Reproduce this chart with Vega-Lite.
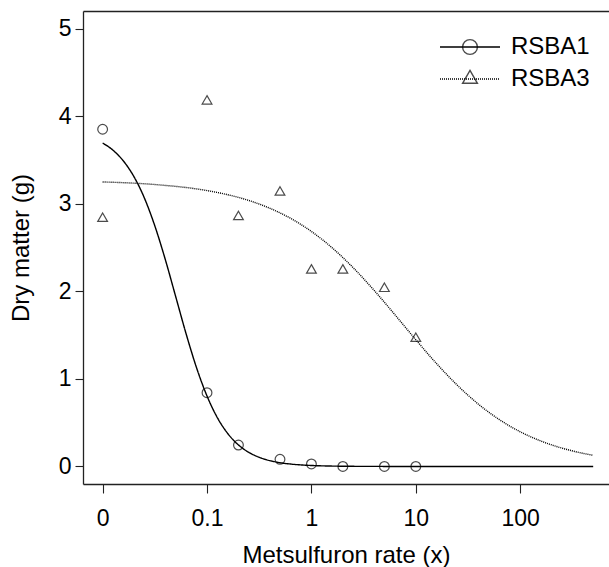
{
  "$schema": "https://vega.github.io/schema/vega-lite/v6.json",
  "width": 526,
  "height": 473,
  "autosize": {"type": "none"},
  "padding": {"left": 83, "top": 11, "right": 0, "bottom": 83},
  "background": "white",
  "config": {
    "view": {"stroke": null},
    "font": "Liberation Sans",
    "axis": {
      "grid": false,
      "domainColor": "#222222",
      "domainWidth": 1.3,
      "tickColor": "#222222",
      "tickWidth": 1.1,
      "labelColor": "black",
      "titleColor": "black",
      "labelFont": "Liberation Sans",
      "titleFont": "Liberation Sans",
      "labelFontSize": 23,
      "titleFontSize": 24,
      "titleFontWeight": "normal"
    }
  },
  "datasets": {
    "obs": [
      {"series": "RSBA1", "dose": 0.01, "dm": 3.85},
      {"series": "RSBA1", "dose": 0.1, "dm": 0.842},
      {"series": "RSBA1", "dose": 0.2, "dm": 0.245},
      {"series": "RSBA1", "dose": 0.5, "dm": 0.082},
      {"series": "RSBA1", "dose": 1, "dm": 0.029},
      {"series": "RSBA1", "dose": 2, "dm": 0.0},
      {"series": "RSBA1", "dose": 5, "dm": 0.0},
      {"series": "RSBA1", "dose": 10, "dm": 0.0},
      {"series": "RSBA3", "dose": 0.01, "dm": 2.83},
      {"series": "RSBA3", "dose": 0.1, "dm": 4.17},
      {"series": "RSBA3", "dose": 0.2, "dm": 2.85},
      {"series": "RSBA3", "dose": 0.5, "dm": 3.13},
      {"series": "RSBA3", "dose": 1, "dm": 2.24},
      {"series": "RSBA3", "dose": 2, "dm": 2.24},
      {"series": "RSBA3", "dose": 5, "dm": 2.03},
      {"series": "RSBA3", "dose": 10, "dm": 1.46}
    ],
    "fit": [
      {"curve": "RSBA1", "dose": 0.01, "dm": 3.693},
      {"curve": "RSBA1", "dose": 0.01259, "dm": 3.610},
      {"curve": "RSBA1", "dose": 0.01585, "dm": 3.486},
      {"curve": "RSBA1", "dose": 0.01995, "dm": 3.309},
      {"curve": "RSBA1", "dose": 0.02512, "dm": 3.065},
      {"curve": "RSBA1", "dose": 0.03162, "dm": 2.747},
      {"curve": "RSBA1", "dose": 0.03981, "dm": 2.364},
      {"curve": "RSBA1", "dose": 0.05012, "dm": 1.939},
      {"curve": "RSBA1", "dose": 0.0631, "dm": 1.513},
      {"curve": "RSBA1", "dose": 0.07943, "dm": 1.126},
      {"curve": "RSBA1", "dose": 0.1, "dm": 0.804},
      {"curve": "RSBA1", "dose": 0.1259, "dm": 0.555},
      {"curve": "RSBA1", "dose": 0.1585, "dm": 0.374},
      {"curve": "RSBA1", "dose": 0.1995, "dm": 0.247},
      {"curve": "RSBA1", "dose": 0.2512, "dm": 0.1615},
      {"curve": "RSBA1", "dose": 0.3162, "dm": 0.1047},
      {"curve": "RSBA1", "dose": 0.3981, "dm": 0.0675},
      {"curve": "RSBA1", "dose": 0.5012, "dm": 0.0433},
      {"curve": "RSBA1", "dose": 0.631, "dm": 0.0278},
      {"curve": "RSBA1", "dose": 0.7943, "dm": 0.0178},
      {"curve": "RSBA1", "dose": 1, "dm": 0.0114},
      {"curve": "RSBA1", "dose": 1.585, "dm": 0.0046},
      {"curve": "RSBA1", "dose": 2.512, "dm": 0.0019},
      {"curve": "RSBA1", "dose": 5.012, "dm": 0.0006},
      {"curve": "RSBA1", "dose": 10, "dm": 0.0002},
      {"curve": "RSBA1", "dose": 31.62, "dm": 0.0},
      {"curve": "RSBA1", "dose": 100, "dm": 0.0},
      {"curve": "RSBA1", "dose": 500, "dm": 0.0},
      {"curve": "RSBA3", "dose": 0.01, "dm": 3.2485},
      {"curve": "RSBA3", "dose": 0.03162, "dm": 3.219},
      {"curve": "RSBA3", "dose": 0.1, "dm": 3.150},
      {"curve": "RSBA3", "dose": 0.1585, "dm": 3.102},
      {"curve": "RSBA3", "dose": 0.2512, "dm": 3.037},
      {"curve": "RSBA3", "dose": 0.3981, "dm": 2.949},
      {"curve": "RSBA3", "dose": 0.631, "dm": 2.833},
      {"curve": "RSBA3", "dose": 1, "dm": 2.683},
      {"curve": "RSBA3", "dose": 1.585, "dm": 2.495},
      {"curve": "RSBA3", "dose": 2.512, "dm": 2.269},
      {"curve": "RSBA3", "dose": 3.981, "dm": 2.012},
      {"curve": "RSBA3", "dose": 6.31, "dm": 1.732},
      {"curve": "RSBA3", "dose": 10, "dm": 1.447},
      {"curve": "RSBA3", "dose": 15.85, "dm": 1.173},
      {"curve": "RSBA3", "dose": 25.12, "dm": 0.9246},
      {"curve": "RSBA3", "dose": 39.81, "dm": 0.7109},
      {"curve": "RSBA3", "dose": 63.1, "dm": 0.5354},
      {"curve": "RSBA3", "dose": 100, "dm": 0.3964},
      {"curve": "RSBA3", "dose": 158.5, "dm": 0.2897},
      {"curve": "RSBA3", "dose": 251.2, "dm": 0.2096},
      {"curve": "RSBA3", "dose": 398.1, "dm": 0.1505},
      {"curve": "RSBA3", "dose": 500, "dm": 0.1275}
    ]
  },
  "layer": [
    {
      "data": {"name": "fit"},
      "mark": {"type": "line", "color": "black", "strokeWidth": 1.4, "interpolate": "monotone", "clip": true},
      "encoding": {
        "x": {
          "field": "dose", "type": "quantitative",
          "scale": {"type": "log", "domain": [0.006486, 708.7], "nice": false},
          "axis": {
            "orient": "bottom",
            "values": [0.01, 0.1, 1, 10, 100],
            "labelExpr": "datum.value < 0.05 ? '0' : format(datum.value, '~g')",
            "tickSize": 9,
            "labelPadding": 14,
            "labelFlush": false,
            "labelOverlap": false,
            "title": "Metsulfuron rate (x)",
            "titlePadding": 13
          }
        },
        "y": {
          "field": "dm", "type": "quantitative",
          "scale": {"domain": [-0.2, 5.2], "nice": false, "zero": false},
          "axis": {
            "values": [0, 1, 2, 3, 4, 5],
            "format": "d",
            "tickSize": 8,
            "labelPadding": 4,
            "labelAngle": 0,
            "title": "Dry matter (g)",
            "titlePadding": 25
          }
        },
        "strokeDash": {
          "field": "curve", "type": "nominal",
          "scale": {"range": [[1, 0], [1, 1]]},
          "legend": {
            "orient": "none", "legendX": 375, "legendY": 24, "title": null,
            "symbolType": "M-4,0L4,0", "symbolSize": 225, "symbolStrokeWidth": 1.3,
            "symbolStrokeColor": "black",
            "labelFont": "Liberation Sans", "labelFontSize": 24, "labelColor": "black",
            "labelOffset": 29, "padding": 0, "rowPadding": 8
          }
        }
      }
    },
    {
      "data": {"name": "obs"},
      "mark": {"type": "point", "filled": false, "color": "black", "strokeWidth": 1.2, "size": 95},
      "encoding": {
        "x": {"field": "dose", "type": "quantitative", "axis": null},
        "y": {"field": "dm", "type": "quantitative"},
        "shape": {
          "field": "series", "type": "nominal",
          "scale": {"range": ["circle", "M0,-1.155L1,0.577L-1,0.577Z"]},
          "legend": {
            "orient": "none", "legendX": 375, "legendY": 24, "title": null,
            "symbolSize": 220, "symbolStrokeWidth": 1.4, "symbolStrokeColor": "black",
            "symbolFillColor": "transparent",
            "labelFont": "Liberation Sans", "labelFontSize": 24, "labelColor": "transparent",
            "labelOffset": 29, "padding": 0, "rowPadding": 8
          }
        }
      }
    },
    {
      "data": {"name": "obs"},
      "mark": {"type": "point", "opacity": 0},
      "encoding": {
        "x": {
          "field": "dose", "type": "quantitative",
          "axis": {"orient": "top", "domain": true, "ticks": false, "labels": false, "title": null, "grid": false}
        }
      }
    }
  ],
  "resolve": {"axis": {"x": "independent"}}
}
